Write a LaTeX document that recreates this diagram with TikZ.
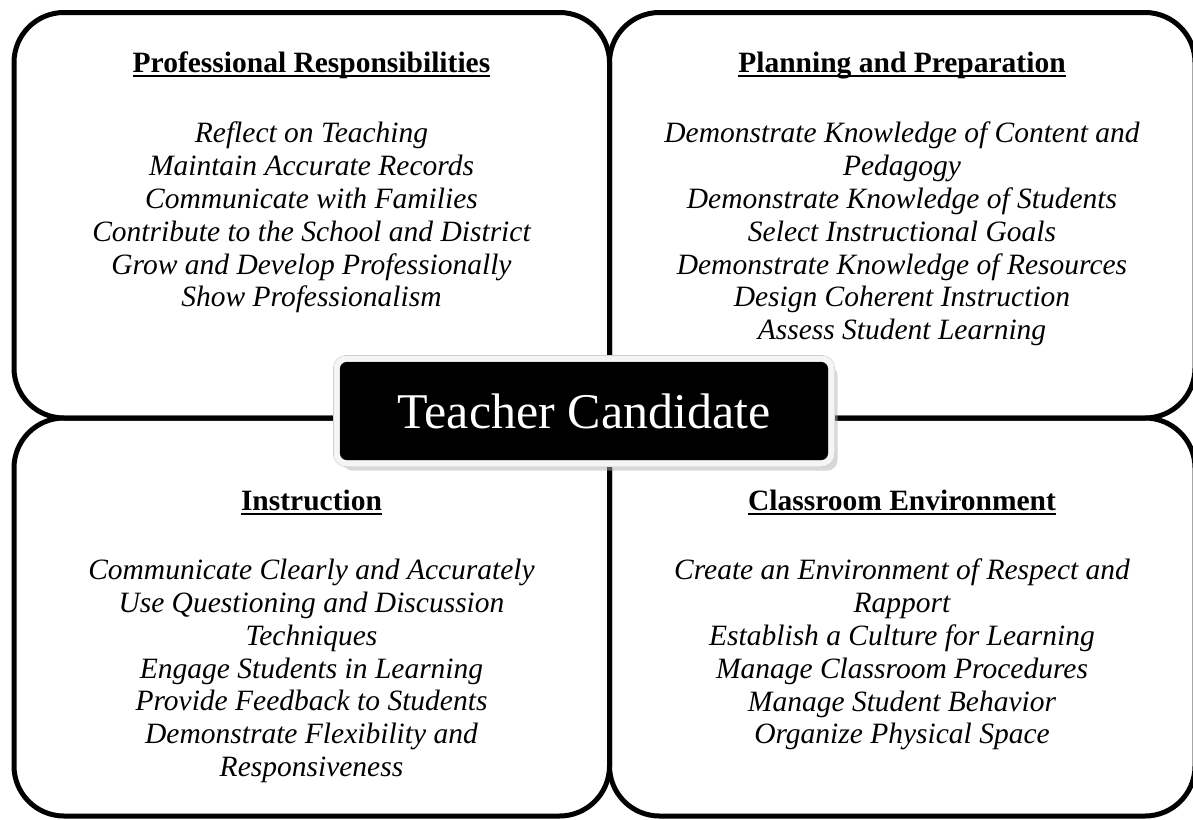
\documentclass[tikz,border=0pt]{standalone}
\usepackage{fontspec}
\setmainfont{Liberation Serif}
\usetikzlibrary{shadows}

% bold heading with a thick underline
\newcommand{\hdline}[1]{\setbox0\hbox{\bfseries #1}\rlap{\rule[-5pt]{\wd0}{2.2pt}}\box0}

\begin{document}
\begin{tikzpicture}[x=1pt, y=-1pt,
    quad/.style = {draw, line width=5pt, rounded corners=50pt},
    head/.style = {anchor=base, inner sep=0pt, font=\fontsize{29.5}{24}\selectfont},
    items/.style = {anchor=north, inner sep=0pt, align=center,
      font=\fontsize{29.5}{32.8}\selectfont\itshape,
      execute at begin node={\lineskiplimit=-100pt}},
    hub/.style = {fill=black, text=white, draw=gray!55, double=gray!8, double distance=6pt,
      rounded corners=10pt, minimum width=495pt, minimum height=105pt,
      font=\fontsize{50}{60}\selectfont,
      drop shadow={shadow xshift=6pt, shadow yshift=-7pt, fill=gray!60}}]
  \useasboundingbox (0,0) rectangle (1193,819);
  % the four domains
  \draw[quad] (14,12.5) rectangle (609.5,418);
  \draw[quad] (609.5,12.5) rectangle (1195,418);
  \draw[quad] (14,418) rectangle (609.5,816);
  \draw[quad] (609.5,418) rectangle (1195,816);
  % top left
  \node[head] (pr) at (311.5,72) {\hdline{Professional Responsibilities}};
  \node[items] (pr list) at (311.5,122) {Reflect on Teaching\\Maintain Accurate Records\\
    Communicate with Families\\Contribute to the School and District\\
    Grow and Develop Professionally\\Show Professionalism};
  % top right
  \node[head] (pp) at (902,72) {\hdline{Planning and Preparation}};
  \node[items] (pp list) at (902,122) {Demonstrate Knowledge of Content and\\Pedagogy\\
    Demonstrate Knowledge of Students\\Select Instructional Goals\\
    Demonstrate Knowledge of Resources\\Design Coherent Instruction\\Assess Student Learning};
  % bottom left
  \node[head] (in) at (311.5,510) {\hdline{Instruction}};
  \node[items] (in list) at (311.5,559) {Communicate Clearly and Accurately\\
    Use Questioning and Discussion\\Techniques\\Engage Students in Learning\\
    Provide Feedback to Students\\Demonstrate Flexibility and\\Responsiveness};
  % bottom right
  \node[head] (ce) at (902,510) {\hdline{Classroom Environment}};
  \node[items] (ce list) at (902,559) {Create an Environment of Respect and\\Rapport\\
    Establish a Culture for Learning\\Manage Classroom Procedures\\
    Manage Student Behavior\\Organize Physical Space};
  % centre
  \node[hub] (tc) at (584,411) {Teacher Candidate};
\end{tikzpicture}
\end{document}
